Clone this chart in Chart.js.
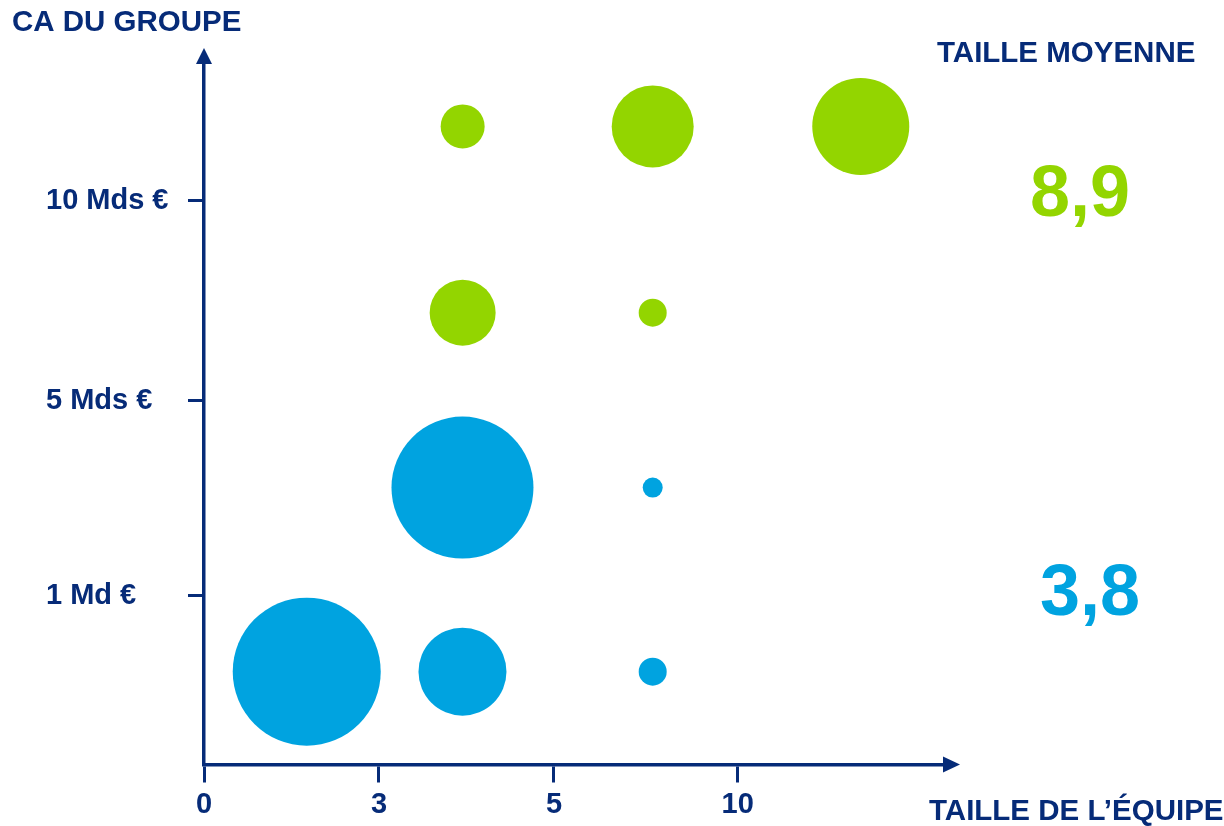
<!DOCTYPE html>
<html lang="fr">
<head>
<meta charset="utf-8">
<title>CA du groupe et taille de l’équipe</title>
<script src="https://cdn.jsdelivr.net/npm/chart.js@4/dist/chart.umd.min.js"></script>
<style>
  html, body { margin: 0; padding: 0; background: #ffffff; }
  #wrap { position: relative; width: 1224px; height: 826px; }
</style>
</head>
<body>
<div id="wrap"><canvas id="chart" width="1224" height="826"></canvas></div>
<script>
// Team-size axis: tick labels and where they sit on the x scale
const teamSizeLabels = ['0', '3', '5', '10'];
const teamSizeTickPos = [0, 1, 2, 3.05];

// Group revenue axis: tick labels and where they sit on the y scale
const revenueLabels = ['1 Md €', '5 Mds €', '10 Mds €'];
const revenueTickPos = [1, 1.986, 3];

// Groups below 5 Mds € (blue): position and bubble radius
const smallGroupsX = [0.587, 1.477, 2.564, 1.477, 2.564];
const smallGroupsY = [0.615, 0.615, 0.615, 1.547, 1.547];
const smallGroupsR = [74, 44, 14, 71, 10];

// Groups above 5 Mds € (green): position and bubble radius
const largeGroupsX = [1.478, 2.564, 1.478, 2.564, 3.753];
const largeGroupsY = [2.433, 2.433, 3.376, 3.376, 3.376];
const largeGroupsR = [33, 14, 22, 41, 48.5];

// Average team size per revenue band
const avgSmall = '3,8';
const avgLarge = '8,9';

const NAVY = '#062B78';
const BLUE = '#00A3E0';
const GREEN = '#93D500';
const FONT = '"Liberation Sans", Arial, Helvetica, sans-serif';

function points(xs, ys, rs) {
  return xs.map((x, i) => ({ x: x, y: ys[i], r: rs[i] }));
}

// Arrowheads on both axes plus the titles and averages
const decorations = {
  id: 'decorations',
  afterDraw(chart) {
    const ctx = chart.ctx;
    const a = chart.chartArea;
    const xAxisY = chart.scales.x.top;
    const yAxisX = chart.scales.y.right;
    ctx.save();
    ctx.fillStyle = NAVY;
    // x-axis arrowhead
    ctx.beginPath();
    ctx.moveTo(a.right - 1, xAxisY - 8);
    ctx.lineTo(a.right + 16, xAxisY);
    ctx.lineTo(a.right - 1, xAxisY + 8);
    ctx.closePath();
    ctx.fill();
    // y-axis arrowhead
    ctx.beginPath();
    ctx.moveTo(yAxisX - 8, a.top + 1);
    ctx.lineTo(yAxisX, a.top - 15);
    ctx.lineTo(yAxisX + 8, a.top + 1);
    ctx.closePath();
    ctx.fill();

    ctx.textBaseline = 'alphabetic';
    ctx.font = 'bold 29.5px ' + FONT;
    ctx.textAlign = 'left';
    ctx.fillText('CA DU GROUPE', 12, 31);
    ctx.fillText('TAILLE MOYENNE', 937, 62);
    ctx.fillText('TAILLE DE L’ÉQUIPE', 929, 820);

    ctx.font = 'bold 72px ' + FONT;
    ctx.textAlign = 'center';
    ctx.fillStyle = GREEN;
    ctx.fillText(avgLarge, 1080, 216);
    ctx.fillStyle = BLUE;
    ctx.fillText(avgSmall, 1090, 615);
    ctx.restore();
  }
};

new Chart(document.getElementById('chart'), {
  type: 'bubble',
  data: {
    datasets: [
      {
        label: 'Moins de 5 Mds €',
        data: points(smallGroupsX, smallGroupsY, smallGroupsR),
        backgroundColor: BLUE,
        borderWidth: 0,
        hoverBorderWidth: 0
      },
      {
        label: 'Plus de 5 Mds €',
        data: points(largeGroupsX, largeGroupsY, largeGroupsR),
        backgroundColor: GREEN,
        borderWidth: 0,
        hoverBorderWidth: 0
      }
    ]
  },
  options: {
    responsive: false,
    animation: false,
    events: [],
    layout: { autoPadding: false, padding: { left: 46, right: 280, top: 63, bottom: 0 } },
    plugins: {
      legend: { display: false },
      tooltip: { enabled: false }
    },
    scales: {
      x: {
        type: 'linear',
        min: 0,
        max: 4.2286,
        afterFit(scale) { scale.height = 61.5; },
        afterBuildTicks(scale) {
          scale.ticks = teamSizeTickPos.map(v => ({ value: v }));
        },
        border: { display: true, color: NAVY, width: 3.5 },
        grid: {
          drawOnChartArea: false,
          drawTicks: true,
          tickLength: 18,
          tickWidth: 3,
          tickColor: NAVY,
          color: NAVY
        },
        ticks: {
          autoSkip: false,
          maxRotation: 0,
          padding: 5,
          color: NAVY,
          font: { family: FONT, size: 29, weight: 'bold' },
          callback: (value, index) => teamSizeLabels[index]
        }
      },
      y: {
        type: 'linear',
        min: 0.145,
        max: 3.697,
        afterFit(scale) { scale.width = 158; },
        afterBuildTicks(scale) {
          scale.ticks = revenueTickPos.map(v => ({ value: v }));
        },
        border: { display: true, color: NAVY, width: 3.5 },
        grid: {
          drawOnChartArea: false,
          drawTicks: true,
          tickLength: 16,
          tickWidth: 3,
          tickColor: NAVY,
          color: NAVY
        },
        ticks: {
          autoSkip: false,
          crossAlign: 'far',
          color: NAVY,
          font: { family: FONT, size: 29, weight: 'bold' },
          callback: (value, index) => revenueLabels[index]
        }
      }
    }
  },
  plugins: [decorations]
});
</script>
</body>
</html>
